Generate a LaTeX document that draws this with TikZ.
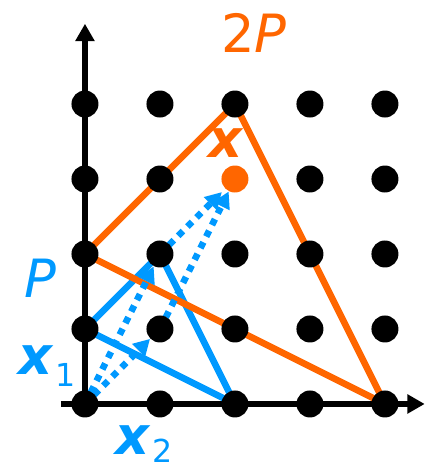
\documentclass[tikz,border=0pt]{standalone}
\usepackage{fontspec}
\setmainfont{DejaVu Sans}
\usetikzlibrary{arrows.meta,backgrounds}
\definecolor{myorange}{RGB}{255,102,0}
\definecolor{myblue}{RGB}{0,153,255}
\begin{document}
\begin{tikzpicture}[x=1cm,y=1cm,
  dot/.style={circle,fill=black,inner sep=0pt,minimum size=0.36cm},
  odot/.style={circle,fill=myorange,inner sep=0pt,minimum size=0.36cm},
  axis/.style={line width=2.2pt,-{Triangle[length=6.6pt,width=7pt]}},
  oline/.style={myorange,line width=2.5pt,line join=round},
  bline/.style={myblue,line width=2.5pt,line join=round},
  darrow/.style={myblue,line width=2.5pt,dash pattern=on 2.5pt off 2.4pt,-{Triangle[length=6.2pt,width=6.6pt]}},
  lab/.style={font=\fontsize{20}{24}\selectfont,inner sep=0pt}
]
\useasboundingbox (-1.133,-0.867) rectangle (4.533,5.387);
\foreach \i in {0,...,4}{
  \foreach \j in {0,...,4}{
    \ifnum\i=2 \ifnum\j=3
      \node[odot] (d\i\j) at (\i,\j) {};
    \else
      \node[dot] (d\i\j) at (\i,\j) {};
    \fi
    \else
      \node[dot] (d\i\j) at (\i,\j) {};
    \fi
  }
}
\coordinate (xs) at (-0.32,0);
\coordinate (xe) at (4.53,0);
\coordinate (ye) at (0,5.07);
\begin{scope}[on background layer]
  \draw[axis] (xs) -- (xe);
  \draw[axis] (d00.center) -- (ye);
  \draw[bline] (d01.center) -- (d12.center) -- (d20.center) -- cycle;
  \draw[oline] (d02.center) -- (d24.center) -- (d40.center) -- cycle;
  \draw[darrow] (d00.center) -- (d12);
  \draw[darrow] (d00.center) -- (d11);
  \draw[darrow,shorten >=0.06cm] (d12.center) -- (d23);
  \draw[darrow] (d11.center) -- (d23);
\end{scope}
\node[lab,text=myorange] (l2p) at (2.25,4.95) {2\textit{P}};
\node[lab,text=myorange,font=\fontsize{20}{24}\selectfont\bfseries\itshape] (lx) at (1.87,3.48) {x};
\node[lab,text=myblue] (lp) at (-0.6,1.68) {\textit{P}};
\node[lab,text=myblue,anchor=base west] (lx1) at (-0.89,0.387) {{\bfseries\itshape x}\kern1pt\raisebox{-4.5pt}{\fontsize{12}{12}\selectfont 1}};
\node[lab,text=myblue,anchor=base west] (lx2) at (0.4,-0.67) {{\bfseries\itshape x}\kern1pt\raisebox{-3.2pt}{\fontsize{12}{12}\selectfont 2}};
\end{tikzpicture}
\end{document}
